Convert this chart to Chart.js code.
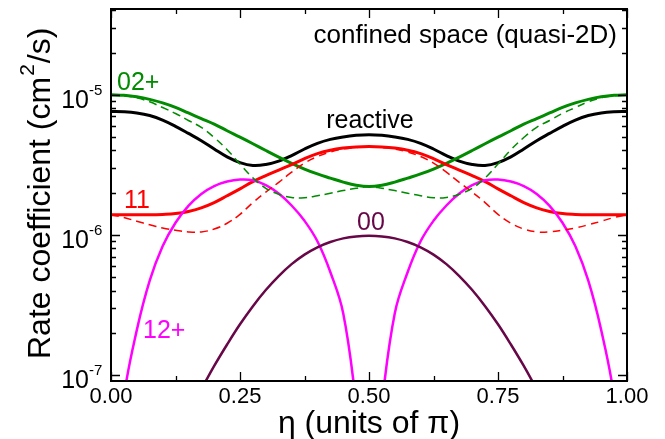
<!DOCTYPE html>
<html>
<head>
<meta charset="utf-8">
<script src="https://cdn.jsdelivr.net/npm/chart.js@4"></script>
<style>
  html,body{margin:0;padding:0;background:#fff;}
  #wrap{width:665px;height:439px;position:relative;}
</style>
</head>
<body>
<div id="wrap"><canvas id="c"></canvas></div>
<script>
// ---- data ----
const eta = [0,0.025,0.05,0.075,0.1,0.125,0.15,0.175,0.2,0.225,0.25,0.275,0.3,0.325,0.35,0.375,0.4,0.425,0.45,0.475,0.5,
             0.525,0.55,0.575,0.6,0.625,0.65,0.675,0.7,0.725,0.75,0.775,0.8,0.825,0.85,0.875,0.9,0.925,0.95,0.975,1];

const k02solid = [1.0e-5,9.9e-6,9.66e-6,9.27e-6,8.75e-6,8.13e-6,7.41e-6,6.76e-6,6.17e-6,5.53e-6,4.98e-6,4.47e-6,4.0e-6,3.59e-6,3.24e-6,2.95e-6,2.72e-6,2.54e-6,2.38e-6,2.26e-6,2.21e-6,
                  2.26e-6,2.38e-6,2.54e-6,2.72e-6,2.95e-6,3.24e-6,3.59e-6,4.0e-6,4.47e-6,4.98e-6,5.53e-6,6.17e-6,6.76e-6,7.41e-6,8.13e-6,8.75e-6,9.27e-6,9.66e-6,9.9e-6,1.0e-5];
const k02dash = [1.0e-5,9.85e-6,9.5e-6,8.9e-6,8.1e-6,7.35e-6,6.55e-6,5.85e-6,4.95e-6,4.05e-6,3.2e-6,2.55e-6,2.15e-6,1.95e-6,1.85e-6,1.84e-6,1.9e-6,1.98e-6,2.07e-6,2.15e-6,2.21e-6,
                 2.15e-6,2.07e-6,1.98e-6,1.9e-6,1.84e-6,1.85e-6,1.95e-6,2.15e-6,2.55e-6,3.2e-6,4.05e-6,4.95e-6,5.85e-6,6.55e-6,7.35e-6,8.1e-6,8.9e-6,9.5e-6,9.85e-6,1.0e-5];
const kReactive = [7.6e-6,7.55e-6,7.4e-6,7.1e-6,6.6e-6,5.95e-6,5.3e-6,4.7e-6,4.1e-6,3.6e-6,3.28e-6,3.13e-6,3.18e-6,3.36e-6,3.68e-6,4.1e-6,4.5e-6,4.8e-6,5.0e-6,5.13e-6,5.18e-6,
                   5.13e-6,5.0e-6,4.8e-6,4.5e-6,4.1e-6,3.68e-6,3.36e-6,3.18e-6,3.13e-6,3.28e-6,3.6e-6,4.1e-6,4.7e-6,5.3e-6,5.95e-6,6.6e-6,7.1e-6,7.4e-6,7.55e-6,7.6e-6];
const k11solid = [1.39e-6,1.39e-6,1.39e-6,1.39e-6,1.4e-6,1.42e-6,1.47e-6,1.56e-6,1.7e-6,1.9e-6,2.13e-6,2.4e-6,2.65e-6,2.9e-6,3.17e-6,3.5e-6,3.8e-6,4.02e-6,4.16e-6,4.24e-6,4.27e-6,
                  4.24e-6,4.16e-6,4.02e-6,3.8e-6,3.5e-6,3.17e-6,2.9e-6,2.65e-6,2.4e-6,2.13e-6,1.9e-6,1.7e-6,1.56e-6,1.47e-6,1.42e-6,1.4e-6,1.39e-6,1.39e-6,1.39e-6,1.39e-6];
const k11dash = [1.39e-6,1.33e-6,1.25e-6,1.18e-6,1.12e-6,1.08e-6,1.05e-6,1.05e-6,1.1e-6,1.21e-6,1.4e-6,1.7e-6,2.02e-6,2.37e-6,2.8e-6,3.25e-6,3.62e-6,3.9e-6,4.1e-6,4.2e-6,4.25e-6,
                 4.2e-6,4.1e-6,3.9e-6,3.62e-6,3.25e-6,2.8e-6,2.37e-6,2.02e-6,1.7e-6,1.4e-6,1.21e-6,1.1e-6,1.05e-6,1.05e-6,1.08e-6,1.12e-6,1.18e-6,1.25e-6,1.33e-6,1.39e-6];
const k12 = [1e-8,7e-8,2.09e-7,4.71e-7,8.28e-7,1.22e-6,1.61e-6,1.96e-6,2.23e-6,2.4e-6,2.48e-6,2.45e-6,2.26e-6,1.97e-6,1.62e-6,1.26e-6,9.0e-7,5.43e-7,2.76e-7,6.3e-8,1e-8,
             6.3e-8,2.76e-7,5.43e-7,9.0e-7,1.26e-6,1.62e-6,1.97e-6,2.26e-6,2.45e-6,2.48e-6,2.4e-6,2.23e-6,1.96e-6,1.61e-6,1.22e-6,8.28e-7,4.71e-7,2.09e-7,7e-8,1e-8];
const k00 = [null,null,null,null,null,null,5.3e-8,7.9e-8,1.16e-7,1.65e-7,2.3e-7,3.1e-7,4.04e-7,5.08e-7,6.18e-7,7.23e-7,8.15e-7,8.89e-7,9.44e-7,9.75e-7,9.84e-7,
             9.75e-7,9.44e-7,8.89e-7,8.15e-7,7.23e-7,6.18e-7,5.08e-7,4.04e-7,3.1e-7,2.3e-7,1.65e-7,1.16e-7,7.9e-8,5.3e-8,null,null,null,null,null,null];

const xTickValues = [0,0.25,0.5,0.75,1];
const xTickLabels = ['0.00','0.25','0.50','0.75','1.00'];
const xMinorValues = [0.125,0.375,0.625,0.875];
const yTickExps = [-7,-6,-5];
const yMin = 9.06e-8, yMax = 4.09e-5;

const GREEN = 'rgb(0,139,0)', RED = 'rgb(255,0,0)', MAG = 'rgb(255,0,255)', MAROON = 'rgb(103,7,72)';

function pts(arr){ return eta.map((x,i)=>({x:x, y:arr[i]})); }
function ds(arr, color, width, dash){
  return {data:pts(arr), borderColor:color, borderWidth:width, borderDash:dash||[], pointRadius:0,
          fill:false, tension:0.4, spanGaps:false, clip:0};
}

const FONT = '"Liberation Sans", Arial, Helvetica, sans-serif';

const overlay = {
  id:'overlay',
  afterDatasetsDraw(chart){
    const ctx = chart.ctx, a = chart.chartArea, xs = chart.scales.x, ys = chart.scales.y;
    ctx.save();
    ctx.strokeStyle = '#000';
    ctx.lineWidth = 1.3;
    ctx.beginPath();
    const MAJ = 9, MIN = 5;
    xTickValues.forEach(v=>{ const px = Math.round(xs.getPixelForValue(v))+0.5;
      ctx.moveTo(px,a.bottom); ctx.lineTo(px,a.bottom-MAJ); ctx.moveTo(px,a.top); ctx.lineTo(px,a.top+MAJ); });
    xMinorValues.forEach(v=>{ const px = Math.round(xs.getPixelForValue(v))+0.5;
      ctx.moveTo(px,a.bottom); ctx.lineTo(px,a.bottom-MIN); ctx.moveTo(px,a.top); ctx.lineTo(px,a.top+MIN); });
    for(let d=-8; d<=-5; d++){
      for(let m=1; m<=9; m++){
        const v = m*Math.pow(10,d);
        if(v<yMin || v>yMax) continue;
        const py = Math.round(ys.getPixelForValue(v))+0.5;
        const L = (m===1)?MAJ:MIN;
        ctx.moveTo(a.left,py); ctx.lineTo(a.left+L,py);
        ctx.moveTo(a.right,py); ctx.lineTo(a.right-L,py);
      }
    }
    ctx.stroke();
    ctx.lineWidth = 2;
    ctx.strokeRect(a.left, a.top, a.right-a.left, a.bottom-a.top);

    ctx.fillStyle = '#000';
    ctx.font = '22px '+FONT; ctx.textAlign='center'; ctx.textBaseline='alphabetic';
    xTickValues.forEach((v,i)=>{ ctx.fillText(xTickLabels[i], xs.getPixelForValue(v), 403); });
    yTickExps.forEach(e=>{
      const py = ys.getPixelForValue(Math.pow(10,e));
      ctx.font = '25px '+FONT; ctx.textAlign='right';
      ctx.fillText('10', 89, py+13.5);
      ctx.font = '15px '+FONT; ctx.textAlign='left';
      ctx.fillText(String(e), 89, py);
    });
    ctx.font = '32px '+FONT; ctx.textAlign='center';
    ctx.fillText('\u03B7 (units of \u03C0)', (a.left+a.right)/2, 433);
    ctx.save();
    ctx.translate(50, 359); ctx.rotate(-Math.PI/2);
    ctx.textAlign='left';
    ctx.font = '32px '+FONT;
    const t1 = 'Rate coefficient (cm';
    ctx.fillText(t1, 0, 0);
    const w1 = ctx.measureText(t1).width;
    ctx.font = '21px '+FONT;
    ctx.fillText('2', w1+1, -16);
    const w2 = ctx.measureText('2').width;
    ctx.font = '32px '+FONT;
    ctx.fillText('/s)', w1+w2+2, 0);
    ctx.restore();
    ctx.font = '26px '+FONT; ctx.textAlign='right';
    ctx.fillText('confined space (quasi-2D)', 617, 43);
    ctx.font = '25px '+FONT; ctx.textAlign='left';
    ctx.fillStyle = GREEN; ctx.fillText('02+', 117, 90);
    ctx.fillStyle = '#000'; ctx.textAlign='center'; ctx.fillText('reactive', 370, 128);
    ctx.fillStyle = RED; ctx.textAlign='left'; ctx.fillText('11', 124, 208);
    ctx.fillStyle = MAROON; ctx.textAlign='center'; ctx.fillText('00', 371, 230);
    ctx.fillStyle = MAG; ctx.textAlign='left'; ctx.fillText('12+', 143, 338);
    ctx.restore();
  }
};

new Chart(document.getElementById('c'), {
  type:'line',
  data:{ datasets:[
    ds(k02dash, GREEN, 1.5, [8,5]),
    ds(k11dash, RED, 1.5, [8,5]),
    ds(k00, MAROON, 2.5),
    ds(k12, MAG, 2.5),
    ds(k11solid, RED, 3),
    ds(k02solid, GREEN, 3),
    ds(kReactive, '#000', 3)
  ]},
  options:{
    responsive:true, maintainAspectRatio:false, animation:false, devicePixelRatio:1,
    layout:{padding:{left:111, right:38, top:9, bottom:58}},
    plugins:{legend:{display:false}, tooltip:{enabled:false}, title:{display:false}},
    events:[],
    scales:{
      x:{type:'linear', min:0, max:1, display:false},
      y:{type:'logarithmic', min:yMin, max:yMax, display:false}
    }
  },
  plugins:[overlay]
});
</script>
</body>
</html>
